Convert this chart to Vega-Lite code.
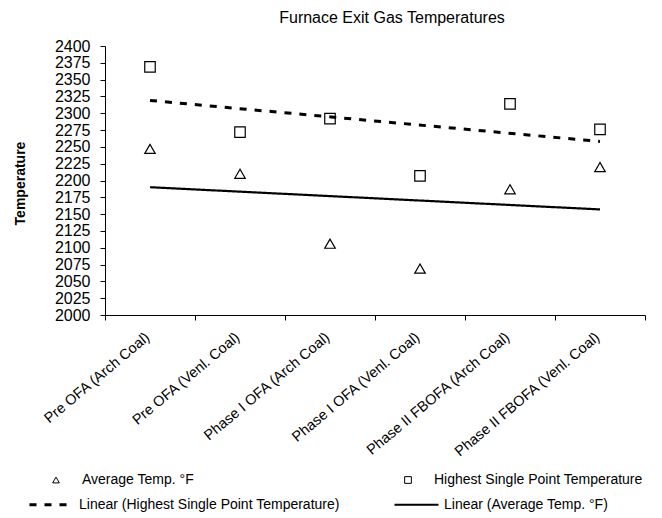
{
  "$schema": "https://vega.github.io/schema/vega-lite/v6.json",
  "width": 540,
  "height": 269,
  "autosize": "none",
  "padding": {"left": 105, "top": 46, "right": 17, "bottom": 203},
  "background": "white",
  "title": {"text": "Furnace Exit Gas Temperatures", "fontSize": 16, "fontWeight": "normal", "font": "Liberation Sans", "color": "black", "anchor": "middle", "frame": "group", "offset": 12, "dx": 17},
  "datasets": {
    "points": [
      {"stage": "Pre OFA (Arch Coal)", "series": "Average Temp. °F", "temp": 2247},
      {"stage": "Pre OFA (Venl. Coal)", "series": "Average Temp. °F", "temp": 2210},
      {"stage": "Phase I OFA (Arch Coal)", "series": "Average Temp. °F", "temp": 2106},
      {"stage": "Phase I OFA (Venl. Coal)", "series": "Average Temp. °F", "temp": 2069},
      {"stage": "Phase II FBOFA (Arch Coal)", "series": "Average Temp. °F", "temp": 2187},
      {"stage": "Phase II FBOFA (Venl. Coal)", "series": "Average Temp. °F", "temp": 2220},
      {"stage": "Pre OFA (Arch Coal)", "series": "Highest Single Point Temperature", "temp": 2369},
      {"stage": "Pre OFA (Venl. Coal)", "series": "Highest Single Point Temperature", "temp": 2272},
      {"stage": "Phase I OFA (Arch Coal)", "series": "Highest Single Point Temperature", "temp": 2292},
      {"stage": "Phase I OFA (Venl. Coal)", "series": "Highest Single Point Temperature", "temp": 2207},
      {"stage": "Phase II FBOFA (Arch Coal)", "series": "Highest Single Point Temperature", "temp": 2314},
      {"stage": "Phase II FBOFA (Venl. Coal)", "series": "Highest Single Point Temperature", "temp": 2276}
    ],
    "trends": [
      {"stage": "Pre OFA (Arch Coal)", "trend": "Linear (Highest Single Point Temperature)", "temp": 2319},
      {"stage": "Phase II FBOFA (Venl. Coal)", "trend": "Linear (Highest Single Point Temperature)", "temp": 2258},
      {"stage": "Pre OFA (Arch Coal)", "trend": "Linear (Average Temp. °F)", "temp": 2190},
      {"stage": "Phase II FBOFA (Venl. Coal)", "trend": "Linear (Average Temp. °F)", "temp": 2157}
    ]
  },
  "encoding": {
    "x": {"field": "stage", "type": "nominal", "bandPosition": 0.5,
      "scale": {"type": "band", "paddingInner": 0, "paddingOuter": 0, "domain": ["Pre OFA (Arch Coal)", "Pre OFA (Venl. Coal)", "Phase I OFA (Arch Coal)", "Phase I OFA (Venl. Coal)", "Phase II FBOFA (Arch Coal)", "Phase II FBOFA (Venl. Coal)"]},
      "axis": {"title": null, "labelAngle": -40, "labelAlign": "right", "labelBaseline": "top", "labelFontSize": 14.5, "tickSize": 5, "labelPadding": 10, "labelOffset": -7, "tickBand": "extent", "labelLimit": 300}},
    "y": {"field": "temp", "type": "quantitative", "scale": {"domain": [2000, 2400], "nice": false, "zero": false},
      "axis": {"title": "Temperature", "values": [2000, 2025, 2050, 2075, 2100, 2125, 2150, 2175, 2200, 2225, 2250, 2275, 2300, 2325, 2350, 2375, 2400], "format": "d", "labelFontSize": 16, "labelOverlap": false, "labelBound": false, "tickSize": 5, "labelPadding": 10, "titleFontSize": 14, "titleFontWeight": "bold", "titleX": -78, "titleY": 137}}
  },
  "layer": [
    {
      "data": {"name": "trends"},
      "mark": {"type": "line", "color": "black"},
      "encoding": {
        "strokeDash": {"field": "trend", "type": "nominal",
          "scale": {"domain": ["Linear (Highest Single Point Temperature)", "Linear (Average Temp. °F)"], "range": [[7, 8], [1, 0]]},
          "legend": {"orient": "none", "legendX": -77, "legendY": 435, "direction": "horizontal", "columns": 2, "title": null, "symbolType": "stroke", "symbolSize": 1936, "symbolStrokeWidth": 2.5, "symbolStrokeColor": "black", "labelOffset": 4, "columnPadding": 50, "labelFontSize": 14, "labelLimit": 400, "padding": 0}},
        "strokeWidth": {"field": "trend", "type": "ordinal",
          "scale": {"domain": ["Linear (Highest Single Point Temperature)", "Linear (Average Temp. °F)"], "range": [3, 2.2]}, "legend": null}
      }
    },
    {
      "data": {"name": "points"},
      "mark": {"type": "point", "filled": false, "color": "black", "strokeWidth": 1.2, "size": 110, "opacity": 1},
      "encoding": {
        "shape": {"field": "series", "type": "nominal",
          "scale": {"domain": ["Average Temp. °F", "Highest Single Point Temperature"], "range": ["triangle-up", "square"]},
          "legend": {"orient": "none", "legendX": -56, "legendY": 427, "direction": "horizontal", "columns": 2, "title": null, "symbolSize": 45, "symbolStrokeColor": "black", "symbolFillColor": "transparent", "symbolStrokeWidth": 1, "labelFontSize": 14, "labelLimit": 400, "labelOffset": 19, "columnPadding": 207, "padding": 0}}
      }
    }
  ],
  "config": {
    "view": {"stroke": null},
    "font": "Liberation Sans",
    "axis": {"grid": false, "domainColor": "black", "tickColor": "black", "labelColor": "black", "titleColor": "black", "labelFont": "Liberation Sans", "titleFont": "Liberation Sans"},
    "legend": {"labelFont": "Liberation Sans", "labelColor": "black"}
  }
}
